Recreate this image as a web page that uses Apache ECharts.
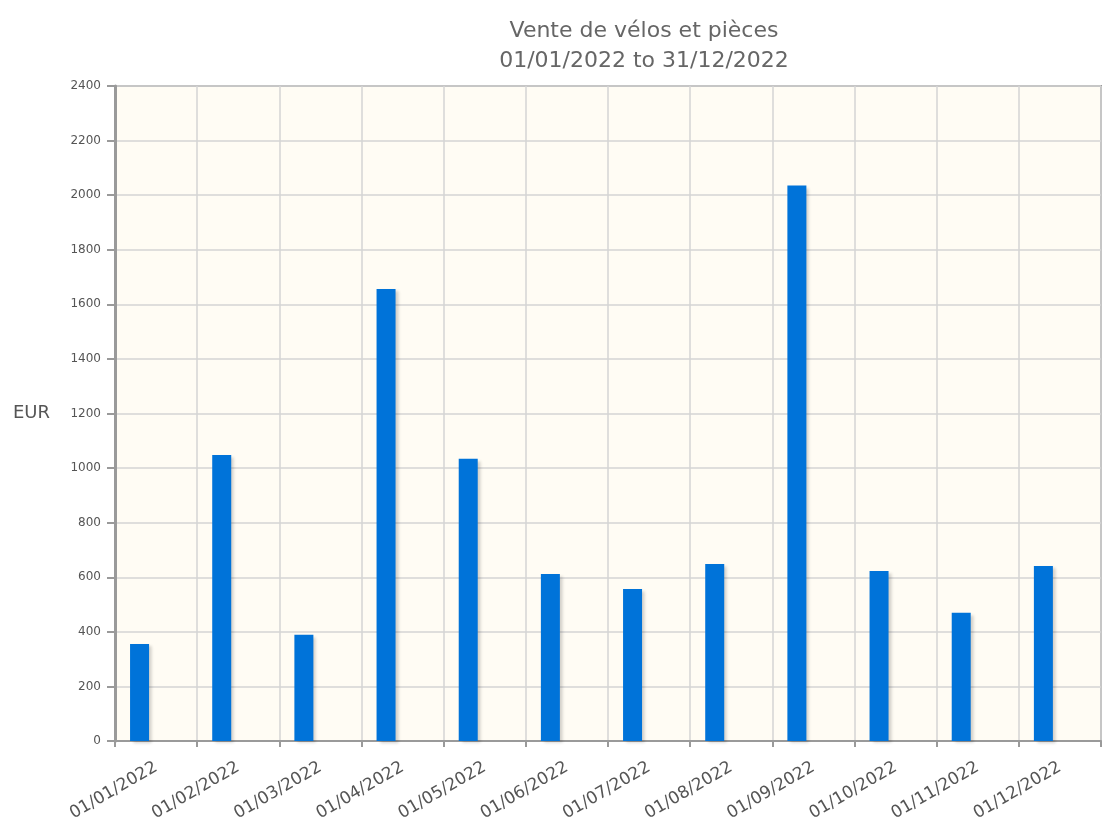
<!DOCTYPE html>
<html>
<head>
<meta charset="utf-8">
<script src="https://cdn.jsdelivr.net/npm/echarts@6/dist/echarts.min.js"></script>
<style>
	html, body { margin: 0; padding: 0; background: #fff; }
	#main { width: 1102px; height: 830px; }
</style>
</head>
<body>
<div id="main"></div>
<script>
	// catégories (mois)
	var months = ['01/01/2022', '01/02/2022', '01/03/2022', '01/04/2022', '01/05/2022', '01/06/2022',
		'01/07/2022', '01/08/2022', '01/09/2022', '01/10/2022', '01/11/2022', '01/12/2022'];
	// ventes en EUR
	var sales = [355, 1048, 389, 1656, 1034, 612, 557, 649, 2035, 623, 470, 641];
	// graduations de l'axe Y
	var yTicks = [0, 200, 400, 600, 800, 1000, 1200, 1400, 1600, 1800, 2000, 2200, 2400];

	var titleText = 'Vente de vélos et pièces\n01/01/2022 to 31/12/2022';

	var chart = echarts.init(document.getElementById('main'));

	chart.setOption({
		animation: false,
		title: {
			text: titleText,
			left: 639,
			top: 11,
			textAlign: 'center',
			textStyle: {
				fontFamily: 'DejaVu Sans',
				fontSize: 22,
				fontWeight: 'normal',
				color: '#666',
				lineHeight: 30
			}
		},
		grid: {
			left: 115,
			right: 1,
			top: 86,
			bottom: 89,
			show: true,
			backgroundColor: '#fffcf4',
			borderColor: '#9a9a9a',
			borderWidth: 2
		},
		xAxis: {
			type: 'category',
			data: months,
			boundaryGap: true,
			axisLine: { lineStyle: { color: '#9a9a9a', width: 2 } },
			axisTick: { show: true, alignWithLabel: false, length: 6, lineStyle: { color: '#9a9a9a', width: 2 } },
			axisLabel: {
				interval: 0,
				rotate: 30,
				fontFamily: 'DejaVu Sans',
				fontSize: 17,
				color: '#555',
				margin: 25
			},
			splitLine: { show: true, interval: 0, lineStyle: { color: '#d4d4d4', width: 1.5 } }
		},
		yAxis: {
			type: 'value',
			min: yTicks[0],
			max: yTicks[yTicks.length - 1],
			interval: yTicks[1] - yTicks[0],
			name: 'EUR',
			nameLocation: 'middle',
			nameRotate: 0,
			nameGap: 65,
			nameTextStyle: { fontFamily: 'DejaVu Sans', fontSize: 18, color: '#555', align: 'right' },
			axisLine: { show: true, lineStyle: { color: '#9a9a9a', width: 3 } },
			axisTick: { show: true, length: 8, lineStyle: { color: '#9a9a9a', width: 2 } },
			axisLabel: {
				fontFamily: 'DejaVu Sans',
				fontSize: 12,
				color: '#555',
				margin: 14,
				formatter: function(v) {
					return String(v);
				}
			},
			splitLine: { show: true, lineStyle: { color: '#d4d4d4', width: 1.5 } }
		},
		series: [
			{
				type: 'bar',
				data: sales,
				barWidth: 19,
				barGap: '74%',
				itemStyle: {
					color: '#0073d9',
					shadowColor: 'rgba(0,0,0,0.18)',
					shadowOffsetX: 3,
					shadowOffsetY: 2,
					shadowBlur: 3
				}
			},
			{
				// série vide pour décaler les barres à gauche
				type: 'bar',
				data: [],
				barWidth: 19,
				silent: true
			}
		]
	});
</script>
</body>
</html>
